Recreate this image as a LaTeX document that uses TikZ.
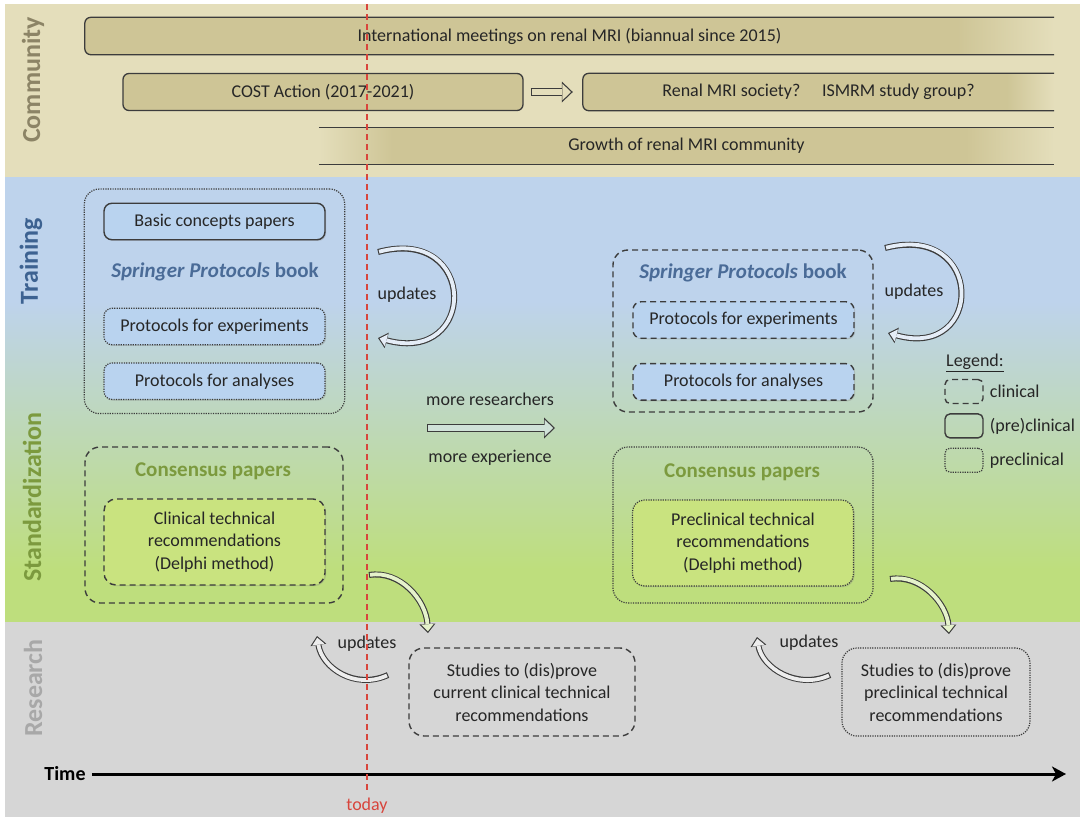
\documentclass[tikz,border=0pt]{standalone}
\usepackage{fontspec}
\setmainfont{Carlito}
\usetikzlibrary{positioning, arrows.meta, shadows, fit}

\definecolor{CommBand}{HTML}{E4DEBB}
\definecolor{BarKhaki}{HTML}{CEC596}
\definecolor{BandBlue}{HTML}{BED3EC}
\definecolor{BandGreen}{HTML}{BEDE7D}
\definecolor{BandGray}{HTML}{D6D6D6}
\definecolor{BoxBlue}{HTML}{B9D3EF}
\definecolor{BoxGreen}{HTML}{C9E37F}
\definecolor{LineGray}{HTML}{3C3C3C}
\definecolor{TextGray}{HTML}{262626}
\definecolor{TodayRed}{HTML}{D8453C}
\definecolor{TrainBlue}{HTML}{3D6291}
\definecolor{BookBlue}{HTML}{4A6B97}
\definecolor{StdGreen}{HTML}{7C9A3E}
\definecolor{CommBrown}{HTML}{8C8466}
\definecolor{ResGray}{HTML}{A8A8A8}

\pgfdeclarehorizontalshading{barfade}{100bp}{color(0bp)=(BarKhaki); color(70bp)=(BarKhaki); color(75bp)=(CommBand); color(100bp)=(CommBand)}
\pgfdeclarehorizontalshading{growthfade}{100bp}{color(0bp)=(CommBand); color(25bp)=(CommBand); color(30bp)=(BarKhaki); color(69bp)=(BarKhaki); color(75bp)=(CommBand); color(100bp)=(CommBand)}
\pgfdeclareverticalshading{bandfade}{100bp}{color(0bp)=(BandGreen); color(31bp)=(BandGreen); color(61bp)=(BandBlue); color(100bp)=(BandBlue)}

\tikzset{
  clinbox/.style={draw=LineGray, line width=1.4pt, dash pattern=on 6pt off 4pt, rounded corners=10pt},
  preclinbox/.style={draw=LineGray, line width=1.2pt, dash pattern=on 1.2pt off 1.2pt, rounded corners=10pt},
  bothbox/.style={draw=LineGray, line width=1.4pt, rounded corners=7pt},
  barline/.style={draw=LineGray, line width=1.3pt},
  hollow/.style={draw=LineGray, line width=8pt, -{Triangle[length=11pt, width=21pt, line width=0pt]},
    postaction={draw=#1, line width=5.6pt, shorten >=1.8pt, shorten <=1.2pt, -{Triangle[length=8.6pt, width=16.4pt, line width=0pt]}}},
  hollow thin/.style={draw=LineGray, line width=6pt, -{Triangle[length=9pt, width=16pt, line width=0pt]},
    postaction={draw=#1, line width=3.8pt, shorten >=1.7pt, shorten <=1.1pt, -{Triangle[length=7pt, width=12.4pt, line width=0pt]}}}
}

\begin{document}
\begin{tikzpicture}[x=1pt, y=-1pt,
    every node/.style={font=\fontsize{18}{22.5}\selectfont, align=center, inner sep=0pt, text=TextGray},
    bandlabel/.style={font=\fontsize{26}{30}\selectfont\bfseries, rotate=90},
    bookttl/.style={font=\fontsize{21}{24}\selectfont\bfseries, text=BookBlue},
    consttl/.style={font=\fontsize{21}{24}\selectfont\bfseries, text=StdGreen},
    bar/.style={minimum height=37pt},
    paper/.style={minimum width=221pt, minimum height=36.5pt, fill=BoxBlue, rounded corners=8pt,
      drop shadow={shadow xshift=1.2pt, shadow yshift=-1.2pt, opacity=.3}},
    rec/.style={minimum width=221pt, minimum height=86pt, fill=BoxGreen, rounded corners=12pt,
      drop shadow={shadow xshift=1.2pt, shadow yshift=-1.2pt, opacity=.3}},
    legbox/.style={minimum width=38pt, minimum height=24pt, rounded corners=5pt}
  ]
  \useasboundingbox (0,0) rectangle (1080,817);
  \fill[white] (0,0) rectangle (1080,817);

  % bands
  \fill[CommBand] (5,4) rectangle (1080,177);
  \shade[shading=bandfade] (5,177) rectangle (1080,622);
  \fill[BandGray] (5,622) rectangle (1080,817);

  \node[bandlabel, text=CommBrown] (commLabel) at (33,80) {Community};
  \node[bandlabel, text=TrainBlue] (trainLabel) at (31,261) {Training};
  \node[bandlabel, text=StdGreen] (stdLabel) at (32,497) {Standardization};
  \node[bandlabel, text=ResGray] (resLabel) at (33,688) {Research};

  % community bars
  \node[bar, shade, shading=barfade, rounded corners=6pt, minimum width=969pt] (meetings) at (569.5,36) {International meetings on renal MRI (biannual since 2015)};
  \draw[barline, rounded corners=6pt] (meetings.north east) -- (meetings.north west) -- (meetings.south west) -- (meetings.south east);

  \node[bar, fill=BarKhaki, draw=LineGray, line width=1.3pt, rounded corners=6pt, minimum width=400pt] (cost) at (323,92) {COST Action (2017-2021)};

  \node[bar, shade, shading=barfade, rounded corners=6pt, minimum width=471pt] (society) at (818.5,92) {Renal MRI society?\hspace{0.9em} ISMRM study group?};
  \draw[barline, rounded corners=6pt] (society.north east) -- (society.north west) -- (society.south west) -- (society.south east);

  \node[bar, shade, shading=growthfade, minimum width=735pt] (growth) at (686.5,146) {Growth of renal MRI community};
  \draw[barline] (growth.north west) -- (growth.north east);
  \draw[barline] (growth.south west) -- (growth.south east);

  \draw[hollow=CommBand] ([xshift=7pt]cost.east) -- ([xshift=-10pt]society.west);

  % training
  \node[bothbox, paper] (basicL) at (214.5,221.5) {Basic concepts papers};
  \node[bookttl] (bookL) at (215,272) {\textit{Springer Protocols} book};
  \node[preclinbox, paper] (expL) at (214.5,326.5) {Protocols for experiments};
  \node[preclinbox, paper, below=17pt of expL] (anaL) {Protocols for analyses};
  \node[preclinbox, rounded corners=15pt, fit=(basicL)(anaL), inner xsep=19pt, inner ysep=13.5pt] (trainL) {};

  \node[clinbox, rounded corners=15pt, minimum width=260pt, minimum height=162pt] (trainR) at (743,331) {};
  \node[bookttl] (bookR) at (743,273) {\textit{Springer Protocols} book};
  \node[clinbox, paper] (expR) at (743.5,320) {Protocols for experiments};
  \node[clinbox, paper, below=24pt of expR] (anaR) {Protocols for analyses};

  \node (updTL) at (407,295) {updates};
  \coordinate (loopTLa) at (378,252);
  \coordinate (loopTLb) at (378,338);
  \draw[hollow thin=BandBlue!40!white] (loopTLa) .. controls (478,225) and (478,365) .. (loopTLb);

  \node (updTR) at (914,292) {updates};
  \coordinate (loopTRa) at (885,248);
  \coordinate (loopTRb) at (888,333);
  \draw[hollow thin=BandBlue!40!white] (loopTRa) .. controls (985,222) and (985,360) .. (loopTRb);

  % more researchers
  \node (moreRes) at (490,399) {more researchers};
  \node (moreExp) at (490,458) {more experience};
  \coordinate (gainFrom) at (427,428);
  \coordinate (gainTo) at (555,428);
  \draw[hollow=white!55!BandGreen!50!BandBlue] (gainFrom) -- (gainTo);

  % legend
  \node[anchor=west] (legTitle) at (946,363) {\underline{Legend:}};
  \node[clinbox, legbox] (legClin) at (964,391.5) {};
  \node[right=6pt of legClin] (legClinTxt) {clinical};
  \node[bothbox, legbox, below=9pt of legClin] (legBoth) {};
  \node[right=6pt of legBoth] (legBothTxt) {(pre)clinical};
  \node[preclinbox, legbox, below=9pt of legBoth] (legPre) {};
  \node[right=6pt of legPre] (legPreTxt) {preclinical};

  % standardization
  \node[clinbox, rounded corners=15pt, minimum width=258pt, minimum height=156pt] (consL) at (214,525) {};
  \node[consttl] (consTtlL) at (213,471) {Consensus papers};
  \node[clinbox, rec] (recL) at (214.5,542) {Clinical technical\\recommendations\\(Delphi method)};

  \node[preclinbox, rounded corners=15pt, minimum width=260pt, minimum height=156pt] (consR) at (743,525) {};
  \node[consttl] (consTtlR) at (742,472) {Consensus papers};
  \node[preclinbox, rec] (recR) at (743,543) {Preclinical technical\\recommendations\\(Delphi method)};

  % research
  \node[clinbox, rounded corners=15pt, minimum width=226pt, minimum height=88pt] (studL) at (522,692) {Studies to (dis)prove\\current clinical technical\\recommendations};
  \node[preclinbox, rounded corners=15pt, minimum width=188pt, minimum height=88pt] (studR) at (936,692) {Studies to (dis)prove\\preclinical technical\\recommendations};

  \coordinate (downLa) at (369,575);
  \coordinate (downLb) at (428,633);
  \draw[hollow thin=white!60!BandGreen] (downLa) .. controls (400,570) and (426,600) .. (downLb);
  \coordinate (downRa) at (890,579);
  \coordinate (downRb) at (949,634);
  \draw[hollow thin=white!60!BandGreen] (downRa) .. controls (921,574) and (947,604) .. (downRb);

  \node (updRL) at (367,644) {updates};
  \coordinate (upLa) at (388,675);
  \coordinate (upLb) at (317,636);
  \draw[hollow thin=white!55!BandGray] (upLa) .. controls (355,690) and (322,668) .. (upLb);
  \node (updRR) at (809,643) {updates};
  \coordinate (upRa) at (830,675);
  \coordinate (upRb) at (757,637);
  \draw[hollow thin=white!55!BandGray] (upRa) .. controls (797,690) and (762,668) .. (upRb);

  % time axis
  \node[font=\fontsize{20}{24}\selectfont\bfseries, text=black] (time) at (65,774) {Time};
  \coordinate (timeEnd) at (1066,774);
  \draw[line width=3pt, -{Stealth[length=14pt, width=15pt, inset=4pt]}] ([xshift=6pt]time.east) -- (timeEnd);

  % today
  \node[text=TodayRed] (today) at (367,806) {today};
  \coordinate (todayTop) at (367,4);
  \draw[TodayRed, line width=1.5pt, dash pattern=on 6pt off 4pt] (todayTop) -- ([yshift=6pt]today.north);
\end{tikzpicture}
\end{document}
